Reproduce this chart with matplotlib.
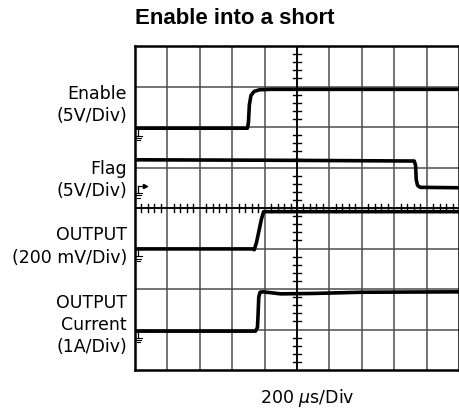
import matplotlib
matplotlib.use("Agg")
import matplotlib.pyplot as plt

# scope traces, in divisions (x: 0..10, y: 0..8)
enable_x = [0, 3.47, 3.50, 3.53, 3.58, 3.68, 3.85, 4.2, 10]
enable_y = [5.97, 5.97, 6.10, 6.55, 6.78, 6.88, 6.92, 6.93, 6.93]

flag_x = [0, 4.0, 8.62, 8.66, 8.68, 8.72, 8.80, 10]
flag_y = [5.19, 5.18, 5.16, 5.05, 4.70, 4.56, 4.51, 4.50]

out_x = [0, 3.62, 3.68, 3.75, 3.83, 3.90, 3.97, 10]
out_y = [2.99, 2.99, 2.97, 3.15, 3.45, 3.72, 3.91, 3.91]

cur_x = [0, 3.72, 3.78, 3.80, 3.82, 3.86, 3.95, 4.5, 5.5, 7.0, 10]
cur_y = [0.96, 0.96, 1.05, 1.40, 1.80, 1.92, 1.93, 1.88, 1.89, 1.92, 1.93]

traces = [(enable_x, enable_y), (flag_x, flag_y), (out_x, out_y), (cur_x, cur_y)]
ground_levels = [5.97, 4.55, 2.99, 0.98]

labels = ["Enable\n(5V/Div)", "Flag\n(5V/Div)", "OUTPUT\n(200 mV/Div)",
          "OUTPUT\nCurrent\n(1A/Div)"]
label_y = [6.55, 4.69, 3.05, 1.11]

fig = plt.figure(figsize=(4.60, 4.09), dpi=100)
ax = fig.add_axes([135 / 460, 1 - 370 / 409, 324 / 460, 324 / 409])
ax.set_xlim(0, 10)
ax.set_ylim(0, 8)
ax.set_xticks([])
ax.set_yticks([])
for s in ax.spines.values():
    s.set_linewidth(1.8)
    s.set_color("black")

# graticule
for i in range(1, 10):
    ax.axvline(i, color="#4d4d4d", lw=1.1, zorder=1)
for j in range(1, 8):
    ax.axhline(j, color="#4d4d4d", lw=1.1, zorder=1)
ax.axvline(5, color="black", lw=1.3, zorder=1)
ax.axhline(4, color="black", lw=1.3, zorder=1)
for k in range(1, 50):
    if k % 5:
        ax.plot([k * 0.2, k * 0.2], [3.9, 4.1], color="black", lw=1.0, zorder=1)
for k in range(1, 40):
    if k % 5:
        ax.plot([4.88, 5.12], [k * 0.2, k * 0.2], color="black", lw=1.0, zorder=1)

for tx, ty in traces:
    ax.plot(tx, ty, color="black", lw=2.6, solid_capstyle="butt", zorder=3)

# ground markers
for i, g in enumerate(ground_levels):
    x0 = 0.1
    ax.plot([x0, x0], [g, g - 0.18], color="black", lw=0.9, zorder=4)
    ax.plot([x0, x0 + 0.18], [g, g], color="black", lw=0.9, zorder=4)
    for n, w in enumerate([0.12, 0.08, 0.04]):
        yy = g - 0.18 - n * 0.06
        ax.plot([x0 - w, x0 + w], [yy, yy], color="black", lw=0.8, zorder=4)
    if i == 1:
        ax.plot([x0 + 0.2], [g], marker=">", ms=3, color="black", zorder=4)

for lab, ly in zip(labels, label_y):
    ax.text(-0.25, ly, lab, ha="right", va="center", fontsize=12.5,
            linespacing=1.3, family="DejaVu Sans", clip_on=False)

fig.text(235 / 460, 1 - 19 / 409, "Enable into a short", ha="center",
         va="center", fontsize=16, fontweight="bold", family="Liberation Sans")
fig.text(307 / 460, 1 - 403 / 409, r"200 $\mu$s/Div", ha="center",
         va="baseline", fontsize=12.5, family="DejaVu Sans")

fig.savefig("out.png", dpi=100)
